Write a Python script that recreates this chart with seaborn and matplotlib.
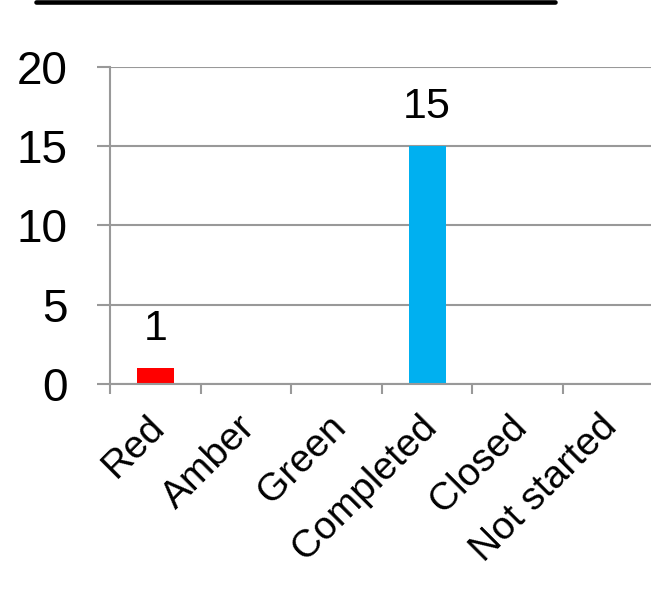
import numpy as np
import pandas as pd
import matplotlib
matplotlib.use("Agg")
from matplotlib import pyplot as plt
from matplotlib.lines import Line2D
from matplotlib.transforms import ScaledTranslation
import seaborn as sns

categories = ['Red', 'Amber', 'Green', 'Completed', 'Closed', 'Not started']
counts = [1, 0, 0, 15, 0, 0]
bar_colors = ['#ff0000', '#ffc000', '#00b050', '#00b0f0', '#7f7f7f', '#ffffff']
yticks = [0, 5, 10, 15, 20]

sns.set_style("white")
plt.rcParams['font.family'] = ['Liberation Sans', 'DejaVu Sans']
plt.rcParams['text.color'] = 'black'
plt.rcParams['xtick.color'] = 'black'
plt.rcParams['ytick.color'] = 'black'

df = pd.DataFrame({'status': categories, 'count': counts})

fig = plt.figure(figsize=(6.51, 5.95), dpi=100)
ax = fig.add_axes([0.169, 0.3546, 0.835, 0.533])

sns.barplot(data=df, x='status', y='count', hue='status', palette=bar_colors,
            width=0.41, saturation=1, linewidth=0, legend=False, ax=ax, zorder=3)

grey = '#999999'
ax.set_ylim(0, 20)
ax.set_xlim(-0.5, len(categories) - 0.5)
ax.set_yticks(yticks)
ax.yaxis.grid(True, color=grey, linewidth=1.5, zorder=0)
ax.set_axisbelow(True)
for side in ['top', 'right']:
    ax.spines[side].set_visible(False)
for side in ['left', 'bottom']:
    ax.spines[side].set_color(grey)
    ax.spines[side].set_linewidth(1.5)
    ax.spines[side].set_zorder(4)

ax.tick_params(axis='y', length=9.4, width=1.5, color=grey, labelcolor='black',
               labelsize=33, pad=21, left=True)
ax.set_xticks(range(len(categories)))
ax.set_xticklabels(categories, rotation=45, ha='right', va='top',
                   rotation_mode='anchor', fontsize=28, color='black')
ax.tick_params(axis='x', which='major', length=0, pad=18)
shift = ScaledTranslation(-9 / 100, 0, fig.dpi_scale_trans)
for lab in ax.get_xticklabels():
    lab.set_transform(lab.get_transform() + shift)
ax.set_xticks(np.arange(-0.5, len(categories), 1.0), minor=True)
ax.tick_params(axis='x', which='minor', length=7, width=1.5, color=grey, bottom=True)
ax.set_xlabel('')
ax.set_ylabel('')

for i, v in enumerate(counts):
    if v > 0:
        ax.text(i, v + 1.2, str(v), ha='center', va='bottom', fontsize=31, color='black')

# underline of the cropped title
fig.add_artist(Line2D([36 / 651, 555 / 651], [1 - 2 / 595, 1 - 2 / 595],
                      transform=fig.transFigure, color='black', linewidth=3.3))

fig.savefig('out.png', dpi=100)
